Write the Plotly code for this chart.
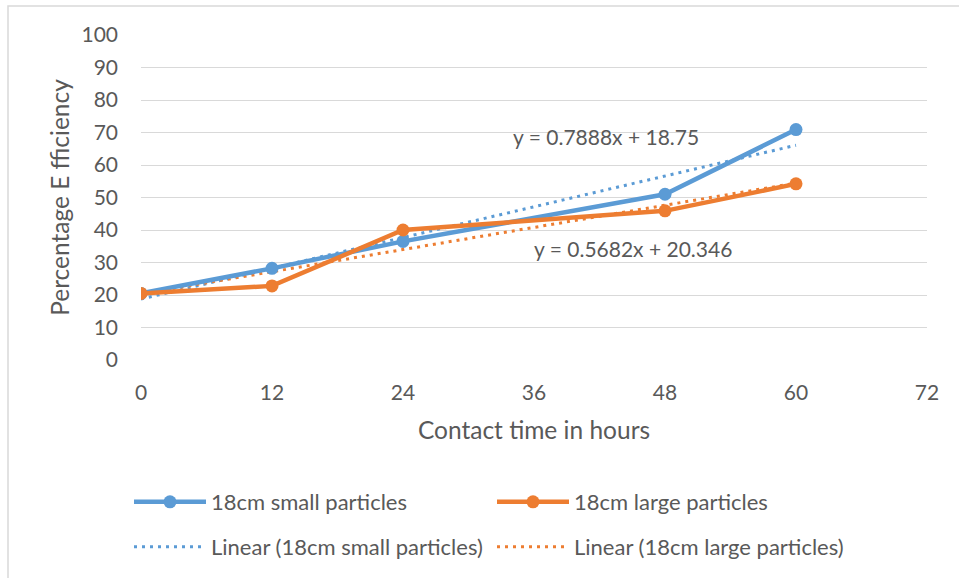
import plotly.graph_objects as go

# Contact time (hours) and percentage efficiency for the two particle sizes
hours = [0, 12, 24, 48, 60]
small_particles = [20.5, 28.2, 36.5, 51.0, 70.9]
large_particles = [20.5, 22.8, 40.0, 45.9, 54.2]

# Linear trendline coefficients (slope, intercept)
small_fit = (0.7888, 18.75)
large_fit = (0.5682, 20.346)

x_ticks = [0, 12, 24, 36, 48, 60, 72]
y_ticks = list(range(0, 101, 10))

BLUE = "#5B9BD5"
ORANGE = "#ED7D31"
TEXT = "#595959"
GRID = "#D9D9D9"
FONT = "Lato, Liberation Sans, sans-serif"
DOTS = "3px,5px"

W, H = 959, 578
L, R, T, B = 141, 32, 35, 217

fit_x = [hours[0], hours[-1]]
small_fit_y = [small_fit[0] * x + small_fit[1] for x in fit_x]
large_fit_y = [large_fit[0] * x + large_fit[1] for x in fit_x]

fig = go.Figure()

fig.add_trace(go.Scatter(
    x=fit_x, y=small_fit_y, mode="lines",
    name="Linear (18cm small particles)",
    line=dict(color=BLUE, width=3, dash=DOTS),
    legend="legend2",
))
fig.add_trace(go.Scatter(
    x=fit_x, y=large_fit_y, mode="lines",
    name="Linear (18cm large particles)",
    line=dict(color=ORANGE, width=3, dash=DOTS),
    legend="legend2",
))
fig.add_trace(go.Scatter(
    x=hours, y=small_particles, mode="lines+markers",
    name="18cm small particles",
    line=dict(color=BLUE, width=4.5),
    marker=dict(color=BLUE, size=13),
    legend="legend",
))
fig.add_trace(go.Scatter(
    x=hours, y=large_particles, mode="lines+markers",
    name="18cm large particles",
    line=dict(color=ORANGE, width=4.5),
    marker=dict(color=ORANGE, size=13),
    legend="legend",
))

pw = W - L - R
ph = H - T - B


def px_x(p):
    return (p - L) / pw


def px_y(p):
    return (H - B - p) / ph


# Trendline equations
fig.add_annotation(x=px_x(606), y=px_y(137), xref="paper", yref="paper",
                   xanchor="center", yanchor="middle",
                   text="y = 0.7888x + 18.75", showarrow=False,
                   font=dict(family=FONT, size=21, color=TEXT))
fig.add_annotation(x=px_x(633), y=px_y(249), xref="paper", yref="paper",
                   xanchor="center", yanchor="middle",
                   text="y = 0.5682x + 20.346", showarrow=False,
                   font=dict(family=FONT, size=21, color=TEXT))

# Chart area border
fig.add_shape(type="rect", xref="paper", yref="paper",
              x0=px_x(8), x1=px_x(975), y0=px_y(6), y1=px_y(595),
              line=dict(color=GRID, width=1.5), fillcolor="rgba(0,0,0,0)",
              layer="below")

legend_common = dict(
    orientation="h", xanchor="left", yanchor="middle",
    font=dict(family=FONT, size=22, color=TEXT),
    bgcolor="rgba(0,0,0,0)", itemwidth=72, entrywidth=276,
    tracegroupgap=0, traceorder="normal",
)

fig.update_layout(
    width=W, height=H,
    margin=dict(l=L, r=R, t=T, b=B),
    paper_bgcolor="white", plot_bgcolor="white",
    font=dict(family=FONT, color=TEXT),
    showlegend=True,
    legend=dict(x=px_x(129), y=px_y(502), **legend_common),
    legend2=dict(x=px_x(129), y=px_y(547), **legend_common),
    xaxis=dict(
        range=[0, 72], tickvals=x_ticks, ticktext=[str(v) for v in x_ticks],
        showgrid=False, zeroline=False, showline=False, ticks="",
        tickfont=dict(family=FONT, size=21, color=TEXT),
        ticklabelstandoff=18,
        title=dict(text="Contact time in hours", standoff=18,
                   font=dict(family=FONT, size=24.5, color=TEXT)),
    ),
    yaxis=dict(
        range=[0, 100], tickvals=y_ticks, ticktext=[str(v) for v in y_ticks],
        showgrid=True, gridcolor=GRID, gridwidth=1.3, zeroline=False,
        showline=False, ticks="",
        tickfont=dict(family=FONT, size=21, color=TEXT),
        ticklabelstandoff=22,
        title=dict(text="Percentage E fficiency", standoff=4,
                   font=dict(family=FONT, size=24.5, color=TEXT)),
    ),
)

fig.write_html("out.html")
